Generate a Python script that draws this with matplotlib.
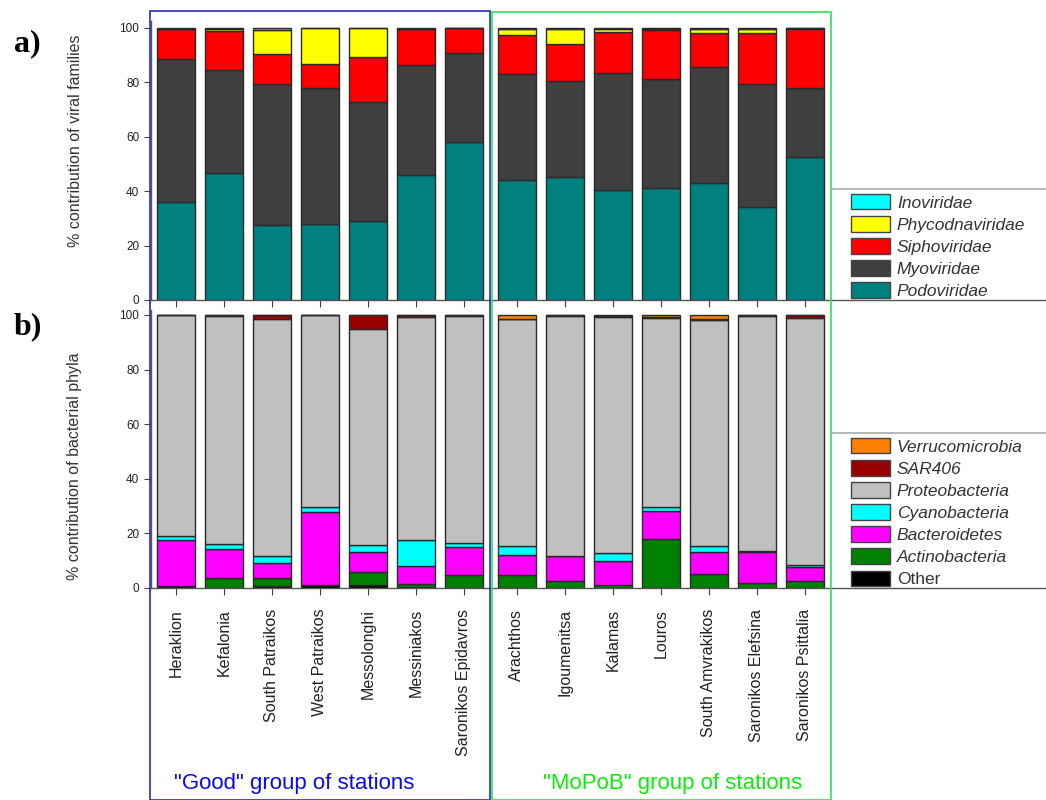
import numpy as np
import matplotlib
matplotlib.use('Agg')
import matplotlib.pyplot as plt
from matplotlib.patches import Patch, Rectangle
from matplotlib.lines import Line2D

plt.rcParams['font.family'] = ['Liberation Sans', 'DejaVu Sans']

stations = ['Heraklion', 'Kefalonia', 'South Patraikos', 'West Patraikos',
            'Messolonghi', 'Messiniakos', 'Saronikos Epidavros',
            'Arachthos', 'Igoumenitsa', 'Kalamas', 'Louros',
            'South Amvrakikos', 'Saronikos Elefsina', 'Saronikos Psittalia']

# viral families (%), bottom to top
podoviridae = [36.0, 46.6, 27.6, 27.9, 28.9, 46.0, 58.2, 44.0, 45.3, 40.4, 41.3, 43.0, 34.2, 52.5]
myoviridae = [52.6, 38.1, 51.7, 49.9, 44.0, 40.3, 32.7, 39.1, 35.2, 43.1, 40.1, 42.5, 45.1, 25.6]
siphoviridae = [10.9, 14.2, 11.3, 8.8, 16.6, 13.2, 9.1, 14.4, 13.6, 15.0, 17.7, 12.7, 19.0, 21.7]
phycodnaviridae = [0.0, 0.9, 8.5, 13.4, 10.5, 0.2, 0.0, 2.3, 5.5, 1.3, 0.7, 1.6, 1.5, 0.2]
inoviridae = [0.5, 0.2, 0.9, 0.0, 0.0, 0.3, 0.0, 0.2, 0.4, 0.2, 0.2, 0.2, 0.2, 0.0]

# bacterial phyla (%), bottom to top
other = [0.9, 0.0, 0.9, 1.1, 1.1, 0.3, 0.0, 0.0, 0.0, 0.0, 0.0, 0.0, 0.0, 0.0]
actinobacteria = [0.0, 3.8, 2.6, 0.0, 4.6, 1.0, 4.6, 4.8, 2.6, 1.0, 18.1, 5.2, 2.0, 2.7]
bacteroidetes = [16.7, 10.4, 5.7, 26.6, 7.5, 6.6, 10.3, 7.2, 9.0, 9.0, 10.2, 8.0, 11.2, 5.1]
cyanobacteria = [1.4, 2.0, 2.6, 1.8, 2.7, 9.7, 1.7, 3.4, 0.2, 2.7, 1.5, 2.1, 0.2, 0.6]
proteobacteria = [81.0, 83.6, 86.6, 70.5, 79.1, 81.5, 82.9, 83.1, 87.8, 86.7, 69.0, 83.0, 86.2, 90.4]
sar406 = [0.0, 0.2, 1.6, 0.0, 5.0, 0.9, 0.5, 0.2, 0.4, 0.4, 0.6, 0.2, 0.4, 1.2]
verrucomicrobia = [0.0, 0.0, 0.0, 0.0, 0.0, 0.0, 0.0, 1.3, 0.0, 0.2, 0.6, 1.5, 0.0, 0.0]

viral = [('Podoviridae', podoviridae, '#008080'),
         ('Myoviridae', myoviridae, '#3f3f3f'),
         ('Siphoviridae', siphoviridae, '#ff0000'),
         ('Phycodnaviridae', phycodnaviridae, '#ffff00'),
         ('Inoviridae', inoviridae, '#00ffff')]
bacterial = [('Other', other, '#000000'),
             ('Actinobacteria', actinobacteria, '#008000'),
             ('Bacteroidetes', bacteroidetes, '#ff00ff'),
             ('Cyanobacteria', cyanobacteria, '#00ffff'),
             ('Proteobacteria', proteobacteria, '#c0c0c0'),
             ('SAR406', sar406, '#990000'),
             ('Verrucomicrobia', verrucomicrobia, '#ff8000')]

W, H = 1046, 800
fig = plt.figure(figsize=(W / 100, H / 100), dpi=100)

x = np.r_[np.arange(7), np.arange(7) + 7.1]
x0 = 151
xlim = (-0.52, -0.52 + (W - x0) / 48.0)


def make_axes(top, bottom, ymax):
    ax = fig.add_axes([x0 / W, 1 - bottom / H, (W - x0) / W, (bottom - top) / H])
    ax.set_xlim(*xlim)
    ax.set_ylim(0, ymax)
    for s in ['top', 'right']:
        ax.spines[s].set_visible(False)
    for s in ['left', 'bottom']:
        ax.spines[s].set_color('#555555')
        ax.spines[s].set_linewidth(1.0)
    ax.set_yticks([0, 20, 40, 60, 80, 100])
    ax.tick_params(axis='both', direction='out', length=5, color='#444444',
                   labelsize=8.5, labelcolor='#222222')
    ax.set_xticks(x)
    return ax


def stack(ax, layers):
    bottom = np.zeros(len(x))
    for name, vals, col in layers:
        ax.bar(x, vals, width=0.79, bottom=bottom, color=col,
               edgecolor='#2a2a2a', linewidth=1.0, label=name)
        bottom += np.array(vals)


ax1 = make_axes(300 - 102.5 * 2.72, 300, 102.5)
stack(ax1, viral)
ax1.set_xticklabels([])

ax2 = make_axes(588 - 102 * 2.73, 588, 102)
stack(ax2, bacterial)
ax2.set_xticklabels(stations, rotation=90, fontsize=11.5, va='top')
ax2.tick_params(axis='x', pad=10)

# legends: frameless with a grey rule across the top
leg_font = dict(size=12.5, style='italic')
leg_kw = dict(loc='upper left', frameon=False, prop=leg_font, handlelength=2.25,
              handleheight=1.0, labelspacing=0.31, handletextpad=0.4, borderaxespad=0)
h1 = [Patch(facecolor=c, edgecolor='#444444', label=n) for n, v, c in viral[::-1]]
leg1 = fig.legend(handles=h1, bbox_to_anchor=(844 / W, 1 - 187 / H), **leg_kw)
h2 = [Patch(facecolor=c, edgecolor='#444444', label=n) for n, v, c in bacterial[::-1]]
leg2 = fig.legend(handles=h2, bbox_to_anchor=(844 / W, 1 - 431 / H), **leg_kw)
for leg in (leg1, leg2):
    for t in leg.get_texts():
        t.set_color('#333333')
leg2.get_texts()[-1].set_style('normal')

for yy in (189, 433):
    fig.add_artist(Line2D([832 / W, 1], [1 - yy / H] * 2, color='#aaaaaa', lw=1.2))

# group boxes
fig.add_artist(Rectangle((150 / W, 0), 340 / W, 1 - 11 / H, fill=False,
                         edgecolor='#2b2bc0', lw=1.2))
fig.add_artist(Rectangle((492 / W, 0), 339 / W, 1 - 12 / H, fill=False,
                         edgecolor='#2ee05a', lw=1.2))
fig.text(294 / W, 1 - 783 / H, '"Good" group of stations', color='#0a0aee',
         fontsize=16, ha='center', va='center')
fig.text(673 / W, 1 - 783 / H, '"MoPoB" group of stations', color='#0aee0a',
         fontsize=16, ha='center', va='center')

fig.text(75 / W, 1 - 141 / H, '% contribution of viral families', rotation=90,
         fontsize=11.5, color='#333333', ha='center', va='center')
fig.text(75 / W, 1 - 466 / H, '% contribution of bacterial phyla', rotation=90,
         fontsize=11.5, color='#333333', ha='center', va='center')

fig.text(14 / W, 1 - 44 / H, 'a)', family='Liberation Serif', weight='bold',
         fontsize=23, ha='left', va='center')
fig.text(14 / W, 1 - 327 / H, 'b)', family='Liberation Serif', weight='bold',
         fontsize=23, ha='left', va='center')

fig.savefig('out.png', dpi=100)
